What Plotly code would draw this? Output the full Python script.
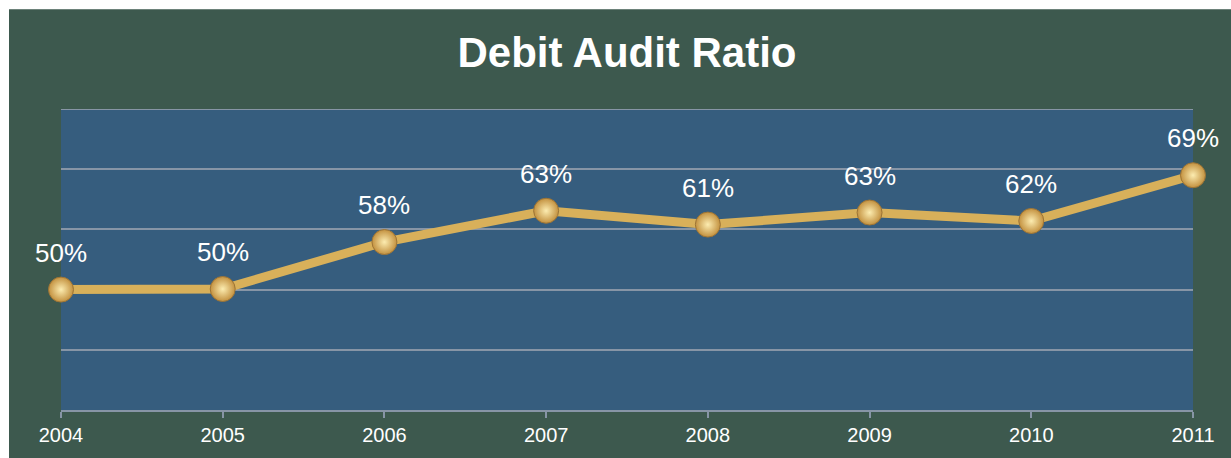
import plotly.graph_objects as go

years = ["2004", "2005", "2006", "2007", "2008", "2009", "2010", "2011"]
ratio = [0.50, 0.501, 0.579, 0.631, 0.608, 0.628, 0.614, 0.69]
labels = ["50%", "50%", "58%", "63%", "61%", "63%", "62%", "69%"]
title_text = "Debit Audit Ratio"

W, H = 1231, 458
ML, MR, MT, MB = 61, 38, 109, 44
PW, PH = W - ML - MR, H - MT - MB

GREEN = "#3d594e"
BLUE = "#365d7e"
GRID = "#8795a6"
GOLD = "#d8b05a"

fig = go.Figure()
fig.add_trace(go.Scatter(
    x=years, y=ratio, mode="lines+markers",
    line=dict(color=GOLD, width=9),
    marker=dict(size=25, color="#c3913f",
                gradient=dict(type="radial", color="#fcecb0"),
                line=dict(color="#9c7436", width=1)),
    cliponaxis=False, hoverinfo="skip", showlegend=False,
))

for i, (y, t) in enumerate(zip(ratio, labels)):
    fig.add_annotation(x=i, y=y, xref="x", yref="y", text=t, showarrow=False, yshift=37,
                       font=dict(family="Arial, Liberation Sans", size=26, color="white"))

# green card background with white margin on top/left
fig.add_shape(type="rect", xref="paper", yref="paper", layer="below",
              x0=(9 - ML) / PW, x1=(W + 20 - ML) / PW,
              y0=(MT + PH - H - 20) / PH, y1=(MT + PH - 8) / PH,
              fillcolor=GREEN, line=dict(width=0))
fig.add_shape(type="rect", xref="paper", yref="paper", layer="below",
              x0=0, x1=1, y0=0, y1=1, fillcolor=BLUE, line=dict(width=0))
# top gridline at the plot edge
fig.add_shape(type="line", xref="paper", yref="y", layer="below",
              x0=0, x1=1, y0=0.8, y1=0.8, line=dict(color=GRID, width=2))

fig.update_layout(
    width=W, height=H,
    margin=dict(l=ML, r=MR, t=MT, b=MB),
    paper_bgcolor="white", plot_bgcolor="rgba(0,0,0,0)",
    title=dict(text="<b>" + title_text + "</b>", x=(627) / W, xanchor="center",
               y=1 - 52 / H, yanchor="middle",
               font=dict(family="Arial, Liberation Sans", size=42, color="white")),
    font=dict(family="Arial, Liberation Sans", color="white"),
)
fig.update_xaxes(type="category", range=[0, len(years) - 1], showgrid=False,
                 showline=True, linecolor=GRID, linewidth=2,
                 ticks="outside", ticklen=6, tickcolor=GRID, tickwidth=2,
                 tickfont=dict(size=20, color="white"), zeroline=False)
fig.update_yaxes(range=[0.30, 0.80], tick0=0.3, dtick=0.1, showgrid=True, gridcolor=GRID,
                 gridwidth=2, showticklabels=False, zeroline=False, showline=False)

fig.write_html("out.html")
